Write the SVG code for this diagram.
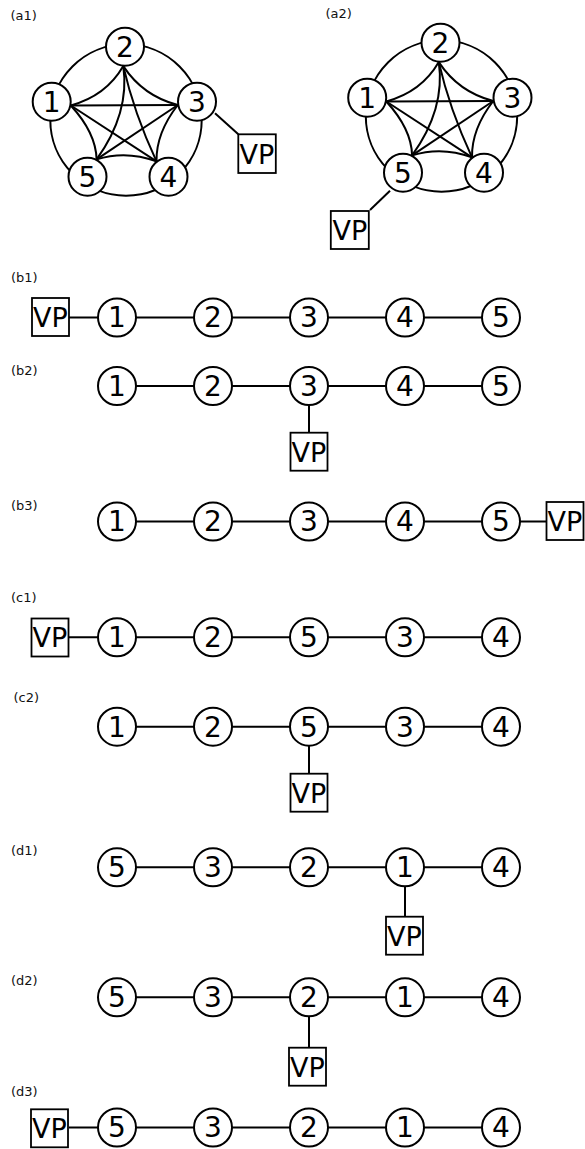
<svg xmlns="http://www.w3.org/2000/svg" width="585" height="1149" viewBox="0 0 585 1149">
  <style>
    .bg { fill: #fff; }
    .n circle { fill: #fff; stroke: #000; stroke-width: 2; }
    .n text { font-family: "DejaVu Sans", Verdana, sans-serif; font-size: 28px; text-anchor: middle; fill: #000; }
    .vp rect { fill: #fff; stroke: #000; stroke-width: 1.8; }
    .vp text { font-family: "DejaVu Sans", Verdana, sans-serif; font-size: 27px; text-anchor: middle; fill: #000; }
    .lbl { font-family: "DejaVu Sans", Verdana, sans-serif; font-size: 13px; fill: #111; }
    .e { stroke: #000; stroke-width: 2; fill: none; }
  </style>
  <rect class="bg" x="0" y="0" width="585" height="1149"/>

  <!-- panel labels -->
  <g id="labels">
    <text class="lbl" x="10.5" y="20">(a1)</text>
    <text class="lbl" x="325.5" y="18.3">(a2)</text>
    <text class="lbl" x="11" y="281.5">(b1)</text>
    <text class="lbl" x="11" y="375">(b2)</text>
    <text class="lbl" x="11" y="510">(b3)</text>
    <text class="lbl" x="11" y="602.3">(c1)</text>
    <text class="lbl" x="13.5" y="702.3">(c2)</text>
    <text class="lbl" x="11" y="855">(d1)</text>
    <text class="lbl" x="11" y="985">(d2)</text>
    <text class="lbl" x="11" y="1095.5">(d3)</text>
  </g>

  <!-- ===== a1: complete graph on five nodes ===== -->
  <g id="a1-connectors">
    <circle class="e" cx="126" cy="120" r="75.7"/>
    <path class="e" d="M70.8,105.5 L177.8,105"/>
    <path class="e" d="M70.8,105.5 L156.5,161.3"/>
    <path class="e" d="M177.8,105 L96.6,159.4"/>
    <path class="e" d="M123.3,66.1 Q130,113 96.6,159.4"/>
    <path class="e" d="M123.3,66.1 Q134,113 156.5,161.3"/>
    <path class="e" d="M123.3,66.1 Q106,96 70.8,105.5"/>
    <path class="e" d="M123.3,66.1 Q143,96 177.8,105"/>
    <path class="e" d="M70.8,105.5 Q96,133 96.6,159.4"/>
    <path class="e" d="M177.8,105 Q156,133 156.5,161.3"/>
    <path class="e" d="M96.6,159.4 Q126,150 156.5,161.3"/>
    <path class="e" d="M215,113.3 L238.3,134.3"/>
  </g>
  <g id="a1-n2" class="n"><circle cx="125" cy="46.7" r="19"/><text x="125" y="56.5">2</text></g>
  <g id="a1-n1" class="n"><circle cx="51.7" cy="101.7" r="19"/><text x="51.7" y="111.5">1</text></g>
  <g id="a1-n3" class="n"><circle cx="197" cy="101.7" r="19"/><text x="197" y="111.5">3</text></g>
  <g id="a1-n5" class="n"><circle cx="87.5" cy="176.7" r="19"/><text x="87.5" y="186.5">5</text></g>
  <g id="a1-n4" class="n"><circle cx="168.5" cy="176.7" r="19"/><text x="168.5" y="186.5">4</text></g>
  <g id="a1-vp" class="vp"><rect x="238.3" y="134.3" width="37.5" height="38.7"/><text x="257" y="163.5">VP</text></g>

  <!-- ===== a2: same graph, VP attached to node 5 ===== -->
  <g transform="translate(315.5,-4)">
    <g id="a2-connectors">
      <circle class="e" cx="126" cy="120" r="75.7"/>
      <path class="e" d="M70.8,105.5 L177.8,105"/>
      <path class="e" d="M70.8,105.5 L156.5,161.3"/>
      <path class="e" d="M177.8,105 L96.6,159.4"/>
      <path class="e" d="M123.3,66.1 Q130,113 96.6,159.4"/>
      <path class="e" d="M123.3,66.1 Q134,113 156.5,161.3"/>
      <path class="e" d="M123.3,66.1 Q106,96 70.8,105.5"/>
      <path class="e" d="M123.3,66.1 Q143,96 177.8,105"/>
      <path class="e" d="M70.8,105.5 Q96,133 96.6,159.4"/>
      <path class="e" d="M177.8,105 Q156,133 156.5,161.3"/>
      <path class="e" d="M96.6,159.4 Q126,150 156.5,161.3"/>
      <path class="e" d="M74.5,194.7 L54.5,214"/>
    </g>
    <g id="a2-n2" class="n"><circle cx="125" cy="46.7" r="19"/><text x="125" y="56.5">2</text></g>
    <g id="a2-n1" class="n"><circle cx="51.7" cy="101.7" r="19"/><text x="51.7" y="111.5">1</text></g>
    <g id="a2-n3" class="n"><circle cx="197" cy="101.7" r="19"/><text x="197" y="111.5">3</text></g>
    <g id="a2-n5" class="n"><circle cx="87.5" cy="176.7" r="19"/><text x="87.5" y="186.5">5</text></g>
    <g id="a2-n4" class="n"><circle cx="168.5" cy="176.7" r="19"/><text x="168.5" y="186.5">4</text></g>
    <g id="a2-vp" class="vp"><rect x="15.3" y="215" width="38" height="38"/><text x="34.3" y="243.8">VP</text></g>
  </g>

  <!-- ===== path rows: connectors ===== -->
  <g id="row-connectors">
    <!-- b1 -->
    <path class="e" d="M69,317.5 H501"/>
    <!-- b2 -->
    <path class="e" d="M117,386 H501 M309,386 V433"/>
    <!-- b3 -->
    <path class="e" d="M117,521.5 H547"/>
    <!-- c1 -->
    <path class="e" d="M69,637.3 H501"/>
    <!-- c2 -->
    <path class="e" d="M117,726.7 H501 M309,726.7 V774"/>
    <!-- d1 -->
    <path class="e" d="M117,867.3 H501 M405,867.3 V917"/>
    <!-- d2 -->
    <path class="e" d="M117,997.3 H501 M309,997.3 V1048"/>
    <!-- d3 -->
    <path class="e" d="M69,1127.5 H501"/>
  </g>

  <!-- b1 -->
  <g id="b1-vp" class="vp"><rect x="32" y="298" width="37" height="38"/><text x="50.5" y="326.8">VP</text></g>
  <g id="b1-n1" class="n"><circle cx="117" cy="317.5" r="19"/><text x="117" y="327.3">1</text></g>
  <g id="b1-n2" class="n"><circle cx="213" cy="317.5" r="19"/><text x="213" y="327.3">2</text></g>
  <g id="b1-n3" class="n"><circle cx="309" cy="317.5" r="19"/><text x="309" y="327.3">3</text></g>
  <g id="b1-n4" class="n"><circle cx="405" cy="317.5" r="19"/><text x="405" y="327.3">4</text></g>
  <g id="b1-n5" class="n"><circle cx="501" cy="317.5" r="19"/><text x="501" y="327.3">5</text></g>

  <!-- b2 -->
  <g id="b2-n1" class="n"><circle cx="117" cy="386" r="19"/><text x="117" y="395.8">1</text></g>
  <g id="b2-n2" class="n"><circle cx="213" cy="386" r="19"/><text x="213" y="395.8">2</text></g>
  <g id="b2-n3" class="n"><circle cx="309" cy="386" r="19"/><text x="309" y="395.8">3</text></g>
  <g id="b2-n4" class="n"><circle cx="405" cy="386" r="19"/><text x="405" y="395.8">4</text></g>
  <g id="b2-n5" class="n"><circle cx="501" cy="386" r="19"/><text x="501" y="395.8">5</text></g>
  <g id="b2-vp" class="vp"><rect x="290.5" y="432.7" width="37" height="38"/><text x="309" y="461.5">VP</text></g>

  <!-- b3 -->
  <g id="b3-n1" class="n"><circle cx="117" cy="521.5" r="19"/><text x="117" y="531.3">1</text></g>
  <g id="b3-n2" class="n"><circle cx="213" cy="521.5" r="19"/><text x="213" y="531.3">2</text></g>
  <g id="b3-n3" class="n"><circle cx="309" cy="521.5" r="19"/><text x="309" y="531.3">3</text></g>
  <g id="b3-n4" class="n"><circle cx="405" cy="521.5" r="19"/><text x="405" y="531.3">4</text></g>
  <g id="b3-n5" class="n"><circle cx="501" cy="521.5" r="19"/><text x="501" y="531.3">5</text></g>
  <g id="b3-vp" class="vp"><rect x="546.5" y="502" width="37" height="38"/><text x="565" y="530.8">VP</text></g>

  <!-- c1 -->
  <g id="c1-vp" class="vp"><rect x="31.5" y="618.5" width="37" height="38"/><text x="50" y="647.3">VP</text></g>
  <g id="c1-n1" class="n"><circle cx="117" cy="637.3" r="19"/><text x="117" y="647.1">1</text></g>
  <g id="c1-n2" class="n"><circle cx="213" cy="637.3" r="19"/><text x="213" y="647.1">2</text></g>
  <g id="c1-n5" class="n"><circle cx="309" cy="637.3" r="19"/><text x="309" y="647.1">5</text></g>
  <g id="c1-n3" class="n"><circle cx="405" cy="637.3" r="19"/><text x="405" y="647.1">3</text></g>
  <g id="c1-n4" class="n"><circle cx="501" cy="637.3" r="19"/><text x="501" y="647.1">4</text></g>

  <!-- c2 -->
  <g id="c2-n1" class="n"><circle cx="117" cy="726.7" r="19"/><text x="117" y="736.5">1</text></g>
  <g id="c2-n2" class="n"><circle cx="213" cy="726.7" r="19"/><text x="213" y="736.5">2</text></g>
  <g id="c2-n5" class="n"><circle cx="309" cy="726.7" r="19"/><text x="309" y="736.5">5</text></g>
  <g id="c2-n3" class="n"><circle cx="405" cy="726.7" r="19"/><text x="405" y="736.5">3</text></g>
  <g id="c2-n4" class="n"><circle cx="501" cy="726.7" r="19"/><text x="501" y="736.5">4</text></g>
  <g id="c2-vp" class="vp"><rect x="290.5" y="773.7" width="37" height="38"/><text x="309" y="802.5">VP</text></g>

  <!-- d1 -->
  <g id="d1-n5" class="n"><circle cx="117" cy="867.3" r="19"/><text x="117" y="877.1">5</text></g>
  <g id="d1-n3" class="n"><circle cx="213" cy="867.3" r="19"/><text x="213" y="877.1">3</text></g>
  <g id="d1-n2" class="n"><circle cx="309" cy="867.3" r="19"/><text x="309" y="877.1">2</text></g>
  <g id="d1-n1" class="n"><circle cx="405" cy="867.3" r="19"/><text x="405" y="877.1">1</text></g>
  <g id="d1-n4" class="n"><circle cx="501" cy="867.3" r="19"/><text x="501" y="877.1">4</text></g>
  <g id="d1-vp" class="vp"><rect x="386" y="916.7" width="37" height="38"/><text x="404.5" y="945.5">VP</text></g>

  <!-- d2 -->
  <g id="d2-n5" class="n"><circle cx="117" cy="997.3" r="19"/><text x="117" y="1007.1">5</text></g>
  <g id="d2-n3" class="n"><circle cx="213" cy="997.3" r="19"/><text x="213" y="1007.1">3</text></g>
  <g id="d2-n2" class="n"><circle cx="309" cy="997.3" r="19"/><text x="309" y="1007.1">2</text></g>
  <g id="d2-n1" class="n"><circle cx="405" cy="997.3" r="19"/><text x="405" y="1007.1">1</text></g>
  <g id="d2-n4" class="n"><circle cx="501" cy="997.3" r="19"/><text x="501" y="1007.1">4</text></g>
  <g id="d2-vp" class="vp"><rect x="289" y="1047.7" width="37" height="38"/><text x="307.5" y="1076.5">VP</text></g>

  <!-- d3 -->
  <g id="d3-vp" class="vp"><rect x="31" y="1109.3" width="37" height="38"/><text x="49.5" y="1138.1">VP</text></g>
  <g id="d3-n5" class="n"><circle cx="117" cy="1127.5" r="19"/><text x="117" y="1137.3">5</text></g>
  <g id="d3-n3" class="n"><circle cx="213" cy="1127.5" r="19"/><text x="213" y="1137.3">3</text></g>
  <g id="d3-n2" class="n"><circle cx="309" cy="1127.5" r="19"/><text x="309" y="1137.3">2</text></g>
  <g id="d3-n1" class="n"><circle cx="405" cy="1127.5" r="19"/><text x="405" y="1137.3">1</text></g>
  <g id="d3-n4" class="n"><circle cx="501" cy="1127.5" r="19"/><text x="501" y="1137.3">4</text></g>
</svg>
